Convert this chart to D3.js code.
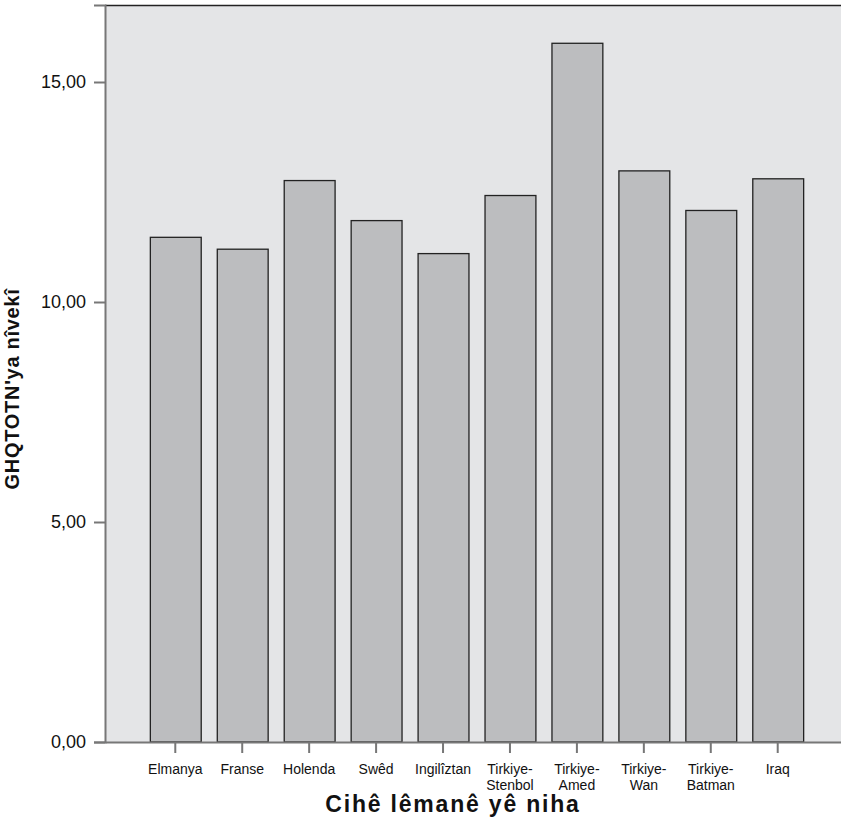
<!DOCTYPE html>
<html>
<head>
<meta charset="utf-8">
<script src="https://cdn.jsdelivr.net/npm/d3@7"></script>
<style>
  html, body { margin: 0; padding: 0; background: #ffffff; }
  svg { display: block; }
  text { font-family: "Liberation Sans", Arial, Helvetica, sans-serif; fill: #111; }
</style>
</head>
<body>
<script>
// ---- data ----
const categories = [
  ["Elmanya"], ["Franse"], ["Holenda"], ["Swêd"], ["Ingilîztan"],
  ["Tirkiye-", "Stenbol"], ["Tirkiye-", "Amed"], ["Tirkiye-", "Wan"],
  ["Tirkiye-", "Batman"], ["Iraq"]
];
const values = [11.47, 11.2, 12.76, 11.85, 11.1, 12.42, 15.88, 12.98, 12.08, 12.8];
const yTicks = [0, 5, 10, 15];
const xTitle = "Cihê lêmanê yê niha";
const yTitle = "GHQTOTN'ya nîvekî";

// ---- layout ----
const W = 841, H = 830;
const plot = { left: 105, right: 848, top: 5, bottom: 742 };

const svg = d3.select("body").append("svg").attr("width", W).attr("height", H);

const keys = categories.map(c => c.join(" "));
const x = d3.scaleBand().domain(keys).range([plot.left, plot.right])
  .paddingInner(0.24).paddingOuter(0.67);
const y = d3.scaleLinear().domain([0, 16.75]).range([plot.bottom, plot.top]);

// background
svg.append("rect")
  .attr("x", plot.left).attr("y", plot.top)
  .attr("width", plot.right - plot.left).attr("height", plot.bottom - plot.top)
  .attr("fill", "#e4e5e7");

// top border
svg.append("line")
  .attr("x1", plot.left).attr("x2", plot.right)
  .attr("y1", plot.top + 0.5).attr("y2", plot.top + 0.5)
  .attr("stroke", "#222").attr("stroke-width", 1.5);

// bars
svg.append("g").selectAll("rect").data(values).join("rect")
  .attr("x", (d, i) => x(keys[i]) + 0.5)
  .attr("y", d => y(d))
  .attr("width", x.bandwidth())
  .attr("height", d => y(0) - y(d))
  .attr("fill", "#bcbdbf")
  .attr("stroke", "#222")
  .attr("stroke-width", 1.3);

// y axis
const yAxis = d3.axisLeft(y).tickValues(yTicks)
  .tickFormat(d => d3.format(".2f")(d).replace(".", ","))
  .tickSize(11).tickPadding(8);
const gy = svg.append("g").attr("transform", `translate(${plot.left},0)`).call(yAxis);
gy.select(".domain").attr("stroke", "#777").attr("stroke-width", 2);
gy.selectAll(".tick line").attr("stroke", "#777").attr("stroke-width", 2);
gy.selectAll(".tick text").attr("font-size", 18).attr("fill", "#111")
  .attr("font-family", "Liberation Sans, Arial, sans-serif");

// x axis
const xAxis = d3.axisBottom(x).tickSize(11).tickSizeOuter(0).tickFormat("");
const gx = svg.append("g").attr("transform", `translate(0,${plot.bottom})`).call(xAxis);
gx.select(".domain").attr("stroke", "#777").attr("stroke-width", 2);
gx.selectAll(".tick line").attr("stroke", "#777").attr("stroke-width", 2);

// x tick labels (multi-line)
const lbl = svg.append("g").selectAll("text").data(categories).join("text")
  .attr("x", (d, i) => x(keys[i]) + x.bandwidth() / 2)
  .attr("y", 774)
  .attr("text-anchor", "middle")
  .attr("font-size", 14)
  .attr("fill", "#111");
lbl.selectAll("tspan").data(d => d).join("tspan")
  .attr("x", function() { return d3.select(this.parentNode).attr("x"); })
  .attr("dy", (d, i) => i === 0 ? 0 : 15.5)
  .text(d => d);

// axis titles
svg.append("text")
  .attr("x", 453).attr("y", 812)
  .attr("text-anchor", "middle")
  .attr("font-size", 23).attr("font-weight", "bold")
  .attr("letter-spacing", 1.8)
  .text(xTitle);

svg.append("text")
  .attr("transform", "translate(19,389) rotate(-90)")
  .attr("text-anchor", "middle")
  .attr("font-size", 20).attr("font-weight", "bold")
  .attr("letter-spacing", 0.7)
  .text(yTitle);
</script>
</body>
</html>
